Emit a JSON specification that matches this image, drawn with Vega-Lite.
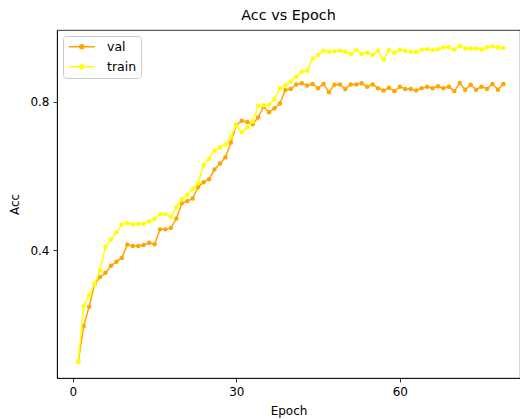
{
  "$schema": "https://vega.github.io/schema/vega-lite/v6.json",
  "autosize": {"type": "none"},
  "padding": {"left": 57, "top": 30, "right": 0, "bottom": 41},
  "width": 463,
  "height": 348,
  "background": "white",
  "title": {"text": "Acc vs Epoch", "font": "DejaVu Sans", "fontSize": 14.4, "fontWeight": "normal", "color": "black", "offset": 7},
  "datasets": {
    "val": [
      {"epoch": 1, "acc": 0.100, "series": "val"}, {"epoch": 2, "acc": 0.196, "series": "val"}, {"epoch": 3, "acc": 0.248, "series": "val"},
      {"epoch": 4, "acc": 0.309, "series": "val"}, {"epoch": 5, "acc": 0.328, "series": "val"}, {"epoch": 6, "acc": 0.339, "series": "val"},
      {"epoch": 7, "acc": 0.358, "series": "val"}, {"epoch": 8, "acc": 0.369, "series": "val"}, {"epoch": 9, "acc": 0.379, "series": "val"},
      {"epoch": 10, "acc": 0.415, "series": "val"}, {"epoch": 11, "acc": 0.411, "series": "val"}, {"epoch": 12, "acc": 0.411, "series": "val"},
      {"epoch": 13, "acc": 0.414, "series": "val"}, {"epoch": 14, "acc": 0.420, "series": "val"}, {"epoch": 15, "acc": 0.416, "series": "val"},
      {"epoch": 16, "acc": 0.456, "series": "val"}, {"epoch": 17, "acc": 0.456, "series": "val"}, {"epoch": 18, "acc": 0.460, "series": "val"},
      {"epoch": 19, "acc": 0.485, "series": "val"}, {"epoch": 20, "acc": 0.526, "series": "val"}, {"epoch": 21, "acc": 0.532, "series": "val"},
      {"epoch": 22, "acc": 0.539, "series": "val"}, {"epoch": 23, "acc": 0.570, "series": "val"}, {"epoch": 24, "acc": 0.583, "series": "val"},
      {"epoch": 25, "acc": 0.591, "series": "val"}, {"epoch": 26, "acc": 0.617, "series": "val"}, {"epoch": 27, "acc": 0.633, "series": "val"},
      {"epoch": 28, "acc": 0.650, "series": "val"}, {"epoch": 29, "acc": 0.689, "series": "val"}, {"epoch": 30, "acc": 0.737, "series": "val"},
      {"epoch": 31, "acc": 0.748, "series": "val"}, {"epoch": 32, "acc": 0.745, "series": "val"}, {"epoch": 33, "acc": 0.739, "series": "val"},
      {"epoch": 34, "acc": 0.757, "series": "val"}, {"epoch": 35, "acc": 0.786, "series": "val"}, {"epoch": 36, "acc": 0.771, "series": "val"},
      {"epoch": 37, "acc": 0.782, "series": "val"}, {"epoch": 38, "acc": 0.795, "series": "val"}, {"epoch": 39, "acc": 0.831, "series": "val"},
      {"epoch": 40, "acc": 0.834, "series": "val"}, {"epoch": 41, "acc": 0.846, "series": "val"}, {"epoch": 42, "acc": 0.849, "series": "val"},
      {"epoch": 43, "acc": 0.843, "series": "val"}, {"epoch": 44, "acc": 0.847, "series": "val"}, {"epoch": 45, "acc": 0.836, "series": "val"},
      {"epoch": 46, "acc": 0.847, "series": "val"}, {"epoch": 47, "acc": 0.825, "series": "val"}, {"epoch": 48, "acc": 0.845, "series": "val"},
      {"epoch": 49, "acc": 0.846, "series": "val"}, {"epoch": 50, "acc": 0.834, "series": "val"}, {"epoch": 51, "acc": 0.846, "series": "val"},
      {"epoch": 52, "acc": 0.846, "series": "val"}, {"epoch": 53, "acc": 0.849, "series": "val"}, {"epoch": 54, "acc": 0.840, "series": "val"},
      {"epoch": 55, "acc": 0.846, "series": "val"}, {"epoch": 56, "acc": 0.836, "series": "val"}, {"epoch": 57, "acc": 0.830, "series": "val"},
      {"epoch": 58, "acc": 0.837, "series": "val"}, {"epoch": 59, "acc": 0.828, "series": "val"}, {"epoch": 60, "acc": 0.840, "series": "val"},
      {"epoch": 61, "acc": 0.834, "series": "val"}, {"epoch": 62, "acc": 0.834, "series": "val"}, {"epoch": 63, "acc": 0.830, "series": "val"},
      {"epoch": 64, "acc": 0.836, "series": "val"}, {"epoch": 65, "acc": 0.840, "series": "val"}, {"epoch": 66, "acc": 0.836, "series": "val"},
      {"epoch": 67, "acc": 0.841, "series": "val"}, {"epoch": 68, "acc": 0.836, "series": "val"}, {"epoch": 69, "acc": 0.840, "series": "val"},
      {"epoch": 70, "acc": 0.828, "series": "val"}, {"epoch": 71, "acc": 0.850, "series": "val"}, {"epoch": 72, "acc": 0.832, "series": "val"},
      {"epoch": 73, "acc": 0.845, "series": "val"}, {"epoch": 74, "acc": 0.832, "series": "val"}, {"epoch": 75, "acc": 0.840, "series": "val"},
      {"epoch": 76, "acc": 0.834, "series": "val"}, {"epoch": 77, "acc": 0.847, "series": "val"}, {"epoch": 78, "acc": 0.832, "series": "val"},
      {"epoch": 79, "acc": 0.847, "series": "val"}
    ],
    "train": [
      {"epoch": 1, "acc": 0.100, "series": "train"}, {"epoch": 2, "acc": 0.250, "series": "train"}, {"epoch": 3, "acc": 0.279, "series": "train"},
      {"epoch": 4, "acc": 0.309, "series": "train"}, {"epoch": 5, "acc": 0.346, "series": "train"}, {"epoch": 6, "acc": 0.409, "series": "train"},
      {"epoch": 7, "acc": 0.429, "series": "train"}, {"epoch": 8, "acc": 0.448, "series": "train"}, {"epoch": 9, "acc": 0.469, "series": "train"},
      {"epoch": 10, "acc": 0.473, "series": "train"}, {"epoch": 11, "acc": 0.469, "series": "train"}, {"epoch": 12, "acc": 0.471, "series": "train"},
      {"epoch": 13, "acc": 0.471, "series": "train"}, {"epoch": 14, "acc": 0.477, "series": "train"}, {"epoch": 15, "acc": 0.484, "series": "train"},
      {"epoch": 16, "acc": 0.497, "series": "train"}, {"epoch": 17, "acc": 0.497, "series": "train"}, {"epoch": 18, "acc": 0.489, "series": "train"},
      {"epoch": 19, "acc": 0.516, "series": "train"}, {"epoch": 20, "acc": 0.537, "series": "train"}, {"epoch": 21, "acc": 0.549, "series": "train"},
      {"epoch": 22, "acc": 0.564, "series": "train"}, {"epoch": 23, "acc": 0.580, "series": "train"}, {"epoch": 24, "acc": 0.630, "series": "train"},
      {"epoch": 25, "acc": 0.646, "series": "train"}, {"epoch": 26, "acc": 0.668, "series": "train"}, {"epoch": 27, "acc": 0.676, "series": "train"},
      {"epoch": 28, "acc": 0.684, "series": "train"}, {"epoch": 29, "acc": 0.706, "series": "train"}, {"epoch": 30, "acc": 0.736, "series": "train"},
      {"epoch": 31, "acc": 0.717, "series": "train"}, {"epoch": 32, "acc": 0.730, "series": "train"}, {"epoch": 33, "acc": 0.746, "series": "train"},
      {"epoch": 34, "acc": 0.789, "series": "train"}, {"epoch": 35, "acc": 0.790, "series": "train"}, {"epoch": 36, "acc": 0.791, "series": "train"},
      {"epoch": 37, "acc": 0.807, "series": "train"}, {"epoch": 38, "acc": 0.835, "series": "train"}, {"epoch": 39, "acc": 0.844, "series": "train"},
      {"epoch": 40, "acc": 0.854, "series": "train"}, {"epoch": 41, "acc": 0.867, "series": "train"}, {"epoch": 42, "acc": 0.880, "series": "train"},
      {"epoch": 43, "acc": 0.883, "series": "train"}, {"epoch": 44, "acc": 0.916, "series": "train"}, {"epoch": 45, "acc": 0.925, "series": "train"},
      {"epoch": 46, "acc": 0.937, "series": "train"}, {"epoch": 47, "acc": 0.934, "series": "train"}, {"epoch": 48, "acc": 0.935, "series": "train"},
      {"epoch": 49, "acc": 0.937, "series": "train"}, {"epoch": 50, "acc": 0.934, "series": "train"}, {"epoch": 51, "acc": 0.928, "series": "train"},
      {"epoch": 52, "acc": 0.939, "series": "train"}, {"epoch": 53, "acc": 0.928, "series": "train"}, {"epoch": 54, "acc": 0.931, "series": "train"},
      {"epoch": 55, "acc": 0.925, "series": "train"}, {"epoch": 56, "acc": 0.937, "series": "train"}, {"epoch": 57, "acc": 0.913, "series": "train"},
      {"epoch": 58, "acc": 0.939, "series": "train"}, {"epoch": 59, "acc": 0.931, "series": "train"}, {"epoch": 60, "acc": 0.940, "series": "train"},
      {"epoch": 61, "acc": 0.936, "series": "train"}, {"epoch": 62, "acc": 0.934, "series": "train"}, {"epoch": 63, "acc": 0.934, "series": "train"},
      {"epoch": 64, "acc": 0.939, "series": "train"}, {"epoch": 65, "acc": 0.941, "series": "train"}, {"epoch": 66, "acc": 0.939, "series": "train"},
      {"epoch": 67, "acc": 0.941, "series": "train"}, {"epoch": 68, "acc": 0.946, "series": "train"}, {"epoch": 69, "acc": 0.946, "series": "train"},
      {"epoch": 70, "acc": 0.940, "series": "train"}, {"epoch": 71, "acc": 0.950, "series": "train"}, {"epoch": 72, "acc": 0.943, "series": "train"},
      {"epoch": 73, "acc": 0.943, "series": "train"}, {"epoch": 74, "acc": 0.943, "series": "train"}, {"epoch": 75, "acc": 0.940, "series": "train"},
      {"epoch": 76, "acc": 0.946, "series": "train"}, {"epoch": 77, "acc": 0.948, "series": "train"}, {"epoch": 78, "acc": 0.946, "series": "train"},
      {"epoch": 79, "acc": 0.944, "series": "train"}
    ]
  },
  "encoding": {
    "x": {"field": "epoch", "type": "quantitative", "title": "Epoch",
      "scale": {"domain": [-2.9, 82.05], "nice": false, "zero": false},
      "axis": {"values": [0, 30, 60], "format": "d", "titlePadding": 8}},
    "y": {"field": "acc", "type": "quantitative", "title": "Acc",
      "scale": {"domain": [0.056, 0.9925], "nice": false, "zero": false},
      "axis": {"values": [0.4, 0.8], "format": ".1f", "titlePadding": 8}},
    "color": {"field": "series", "type": "nominal",
      "scale": {"domain": ["val", "train"], "range": ["#FFA500", "#FFFF00"]},
      "legend": {
        "title": null, "orient": "top-left", "offset": 6, "padding": 4.5,
        "symbolType": "M-1,0H4.2M2,0A0.4,0.4 0 1,1 1.2,0A0.4,0.4 0 1,1 2,0Z",
        "symbolSize": 100, "symbolStrokeWidth": 1.5, "labelOffset": 27,
        "labelFont": "DejaVu Sans", "labelFontSize": 12.5, "labelColor": "black",
        "rowPadding": 7, "strokeColor": "#cccccc", "fillColor": "rgba(255,255,255,0.8)", "cornerRadius": 3,
        "encode": {"symbols": {"update": {"fill": {"scale": "color", "field": "value"}, "stroke": {"scale": "color", "field": "value"}, "opacity": {"value": 1}}}}
      }}
  },
  "layer": [
    {"data": {"name": "val"}, "mark": {"type": "line", "strokeWidth": 1.5}},
    {"data": {"name": "val"}, "mark": {"type": "point", "filled": true, "size": 20, "opacity": 1}},
    {"data": {"name": "train"}, "mark": {"type": "line", "strokeWidth": 1.5}},
    {"data": {"name": "train"}, "mark": {"type": "point", "filled": true, "size": 20, "opacity": 1}}
  ],
  "config": {
    "font": "DejaVu Sans",
    "view": {"stroke": "black", "strokeWidth": 0.8},
    "axis": {
      "grid": false, "domainColor": "black", "domainWidth": 0.8, "tickColor": "black", "tickWidth": 0.8, "tickSize": 4,
      "labelColor": "black", "labelFont": "DejaVu Sans", "labelFontSize": 12, "labelPadding": 4,
      "titleColor": "black", "titleFont": "DejaVu Sans", "titleFontSize": 12, "titleFontWeight": "normal"
    }
  }
}
